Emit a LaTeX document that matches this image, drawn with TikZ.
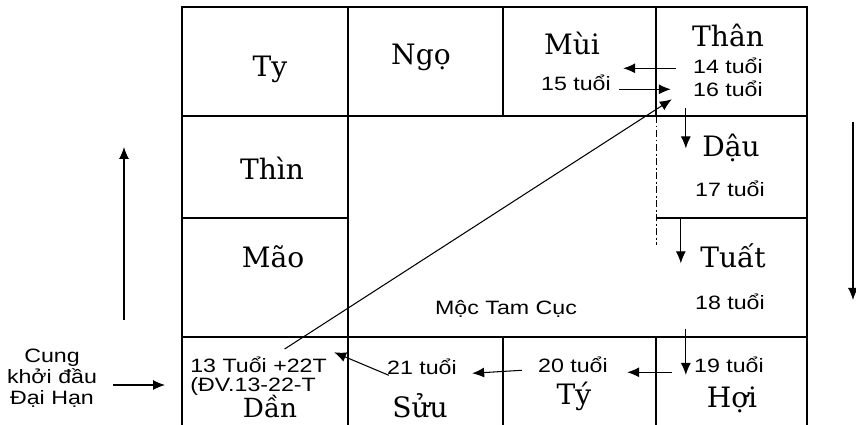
\documentclass[tikz,border=0pt]{standalone}
\usepackage{fontspec}
\setmainfont{DejaVu Serif}
\newfontfamily\agefont[FakeStretch=1.2]{Liberation Sans}
\usetikzlibrary{arrows.meta}

\begin{document}
\begin{tikzpicture}[
    x=0.02cm, y=-0.02cm,
    cung/.style={font=\fontsize{16}{19}\selectfont, inner sep=0pt, anchor=base},
    tuoi/.style={font=\agefont\fontsize{11}{12}\selectfont, inner sep=0pt, anchor=base},
    grid/.style={line width=0.8pt},
    arrow/.style={-{Latex[length=2.4mm,width=2mm]}, line width=0.6pt}
]
\useasboundingbox (0,0) rectangle (856,425);

% khung 12 cung
\draw[grid] (182,425) -- (182,7) -- (807,7) -- (807,425);
\draw[grid] (182,116) -- (807,116);
\draw[grid] (182,218) -- (348,218);
\draw[grid] (656,218) -- (807,218);
\draw[grid] (182,337) -- (807,337);
\draw[grid] (348,7) -- (348,425);
\draw[grid] (503,7) -- (503,116);
\draw[grid] (503,337) -- (503,425);
\draw[grid] (656,7) -- (656,116);
\draw[grid] (656,337) -- (656,425);
\draw[line width=0.5pt, dash pattern=on 4pt off 1.5pt on 1pt off 1.5pt] (656,116) -- (656,245);

% ten cung
\node[cung] (ty) at (270,77) {Ty};
\node[cung] (ngo) at (421,65) {Ngọ};
\node[cung] (mui) at (572,55) {Mùi};
\node[cung] (than) at (728,47) {Thân};
\node[cung] (thin) at (272,180) {Thìn};
\node[cung] (dau) at (731,157) {Dậu};
\node[cung] (mao) at (273,268) {Mão};
\node[cung] (tuat) at (733,268) {Tuất};
\node[cung, font=\fontsize{15}{18}\selectfont] (dan) at (270,418) {Dần};
\node[cung] (suu) at (420,418) {Sửu};
\node[cung] (tyy) at (574,405) {Tý};
\node[cung] (hoi) at (732,408) {Hợi};

% tuoi
\node[tuoi] (t14) at (728,74) {14 tuổi};
\node[tuoi] (t15) at (576,91) {15 tuổi};
\node[tuoi] (t16) at (728,97) {16 tuổi};
\node[tuoi] (t17) at (730,197) {17 tuổi};
\node[tuoi] (t18) at (730,310) {18 tuổi};
\node[tuoi] (t19) at (729,373) {19 tuổi};
\node[tuoi] (t20) at (573,373) {20 tuổi};
\node[tuoi] (t21) at (422,375) {21 tuổi};
\node[tuoi, anchor=base west] (t13) at (190,373) {13 Tuổi +22T};
\node[tuoi, anchor=base west] (dv13) at (190,392) {(ĐV.13-22-T};
\node[tuoi] (moc) at (506,315) {Mộc Tam Cục};
\node[tuoi, anchor=center, align=center, font=\agefont\fontsize{11}{11.8}\selectfont] (khoidau) at (52,378) {Cung\\khởi đầu\\Đại Hạn};

% duong di dai han
\coordinate (k1) at ([shift={(-7,10)}]t16.south west);
\coordinate (k2) at ([shift={(-14,21)}]t17.south west);
\coordinate (k3) at ([shift={(-9,18)}]t18.south west);
\coordinate (k0) at ([shift={(16,7)}]khoidau.east);
\draw[arrow] ([shift={(-17,2)}]t14.west) -- ([shift={(12,-15)}]t15.east);
\draw[arrow] ([shift={(8,6)}]t15.east) -- ([shift={(-22,0)}]t16.west);
\draw[arrow] ([shift={(26,-8)}]t13.north) -- ([shift={(-21,10)}]t16.west);
\draw[arrow] (k1) -- (k1 |- dau.west);
\draw[arrow, shorten >=-0.14cm] (k2) -- (k2 |- tuat.west);
\draw[arrow, shorten >=-0.04cm] (k3) -- (k3 |- t19.base);
\draw[arrow] ([shift={(-22,7)}]t19.west) -- ([shift={(19,7)}]t20.east);
\draw[arrow] ([shift={(-16,5)}]t20.west) -- ([shift={(15,6)}]t21.east);
\draw[arrow] ([shift={(2,8)}]t21.west) -- ([shift={(7,-13)}]t13.east);

% chieu nghich / thuan
\coordinate (len0) at (124,320);
\coordinate (len1) at (124,147);
\coordinate (xuong0) at (853,122);
\coordinate (xuong1) at (853,300);
\draw[arrow] (len0) -- (len1);
\draw[arrow] (xuong0) -- (xuong1);
\draw[arrow, shorten >=0.5cm] (k0) -- (k0 -| dv13.west);
\end{tikzpicture}
\end{document}
